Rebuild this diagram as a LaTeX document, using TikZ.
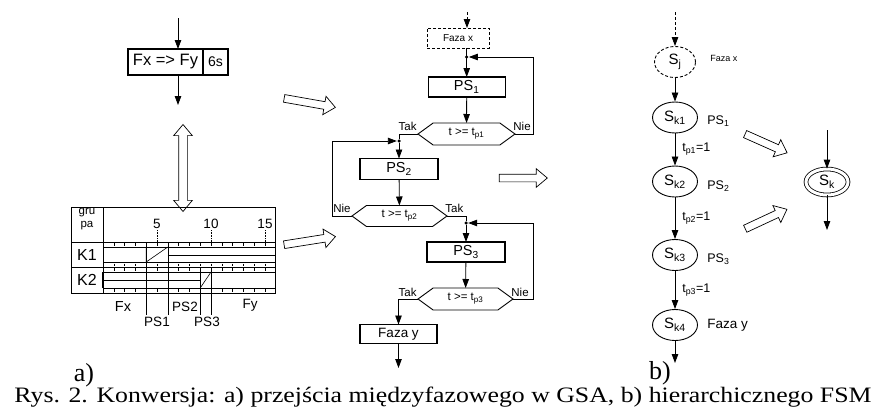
\documentclass[tikz,border=0pt]{standalone}
\usepackage{fontspec}
\setmainfont{Liberation Sans}
\newfontfamily\capfont{Liberation Serif}
\usepackage{graphicx}
\usepackage{tikz}
\usetikzlibrary{calc}
\usetikzlibrary{arrows.meta}
\usetikzlibrary{shapes.geometric}
\usetikzlibrary{shapes.symbols}
\usetikzlibrary{shapes.arrows}

\begin{document}
\begin{tikzpicture} [x=1pt, y=-1pt, line width=.8pt,
>={Triangle[length=9pt,width=6.5pt]},
box/.style={draw, line width=1.1pt, inner sep=0pt, outer sep=0pt, font=\fontsize{14.5}{14.5}\selectfont},
hexbox/.style={draw, signal, signal to=west and east, signal pointer angle=72, inner sep=0pt, outer sep=0pt, line width=.9pt, font=\fontsize{11.5}{11.5}\selectfont},
state/.style={draw, ellipse, minimum width=45pt, minimum height=31pt, inner sep=0pt, line width=.9pt, font=\fontsize{15}{15}\selectfont},
hollow/.style={draw, single arrow, minimum height=#1, inner xsep=0pt, inner ysep=3.5pt, single arrow head extend=5.5pt, single arrow tip angle=80, line width=.7pt},
lab/.style={font=\fontsize{11.5}{11.5}\selectfont, inner sep=1pt},
chart/.style={font=\fontsize{13.5}{13.5}\selectfont, inner sep=1pt},
dot/.style={circle, fill, inner sep=0pt, minimum size=3.5pt}]

\useasboundingbox (0,0) rectangle (893,407);

\coordinate (lin) at (178,18);
\coordinate (lout) at (178,105);
\node[box, minimum width=75, minimum height=26, font=\fontsize{16.5}{16.5}\selectfont] (fxfy) at (165.5,62) {Fx => Fy};
\node[box, minimum width=25, minimum height=26, anchor=west, font=\fontsize{14}{14}\selectfont] (czas) at (fxfy.east) {6s};
\draw[->] (lin) -- (lin |- fxfy.north);
\draw[->] (lin |- fxfy.south) -- (lout);

\node[draw, double arrow, rotate=90, minimum height=87, inner xsep=0pt, inner ysep=4pt, double arrow head extend=5pt, double arrow tip angle=80, line width=.7pt] (zamiana) at (183,168) {};

\draw (71,207) rectangle (275.8,293);
\draw[line width=.6pt] (103,207) -- (103,293);
\draw[line width=.6pt] (71,242) -- (275.8,242);
\draw[line width=.6pt] (71,267) -- (275.8,267);

\begin{scope}[shift={(103,0)}, x=10.8pt, line width=.6pt]
\foreach \y in {247,262,272,288}
\draw (0,\y) -- (16,\y);

\foreach \x in {1,...,15} {
\draw[line width=.5pt] (\x,243) -- (\x,246);
\draw[line width=.5pt] (\x,263.5) -- (\x,266);
\draw[line width=.5pt] (\x,268) -- (\x,271);
\draw[line width=.5pt] (\x,289) -- (\x,292);
}

\foreach \x in {5,10,15}
\draw[densely dotted] (\x,230) -- (\x,242) node[pos=0, anchor=south, chart] (n\x) {\x};

\draw (4,247) -- (4,262) -- (6,247);
\draw (6,255) -- (16,255);
\draw[line width=1.3pt] (0,272) -- (0,288);
\draw (0,280) -- (9,280);
\draw (9,288) -- (10,272);

\draw (4,242) -- (4,315);
\draw (6,242) -- (6,315);
\draw (9,267) -- (9,315);
\draw (10,267) -- (10,315);
\end{scope}

\node[font=\fontsize{11.5}{11.5}\selectfont] (gru) at (87,213) {gru};
\node[font=\fontsize{11.5}{11.5}\selectfont] (pa) at (87,226) {pa};
\node[font=\fontsize{16}{16}\selectfont] (k1) at (87,255) {K1};
\node[font=\fontsize{16}{16}\selectfont] (k2) at (87,280) {K2};
\node[chart, font=\fontsize{14.5}{14.5}\selectfont] (lfx) at (123,307) {Fx};
\node[chart] (lps1) at (157,322) {PS1};
\node[chart] (lps2) at (185,307) {PS2};
\node[chart] (lps3) at (207,322) {PS3};
\node[chart] (lfy) at (250,305) {Fy};

\node[hollow=52, rotate=-10] (doA) at (307.5,102.5) {};
\node[hollow=52, rotate=9] (doB) at (307.5,241) {};
\node[hollow=48] (doC) at (521,178) {};
\node[hollow=46, rotate=-24] (doD) at (764,142.5) {};
\node[hollow=46, rotate=25] (doE) at (764,220) {};

\coordinate (fin) at (467,12);
\node[box, densely dashed, line width=.6pt, minimum width=62, minimum height=20, font=\fontsize{10}{10}\selectfont] (fazax) at (458,38) {Faza x};
\draw[->, densely dashed] (fin) -- (fin |- fazax.north);
\node[box, minimum width=77, minimum height=20] (ps1) at (466.7,87) {PS\textsubscript{1}};
\node[dot] (j1) at (466.7,57) {};
\draw[->] (ps1 |- fazax.south) -- (ps1.north);
\node[hexbox, minimum width=97, minimum height=22] (h1) at (466.5,134) {t >= t\textsubscript{p1}};
\draw[->] (ps1) -- (h1);
\draw[->] (h1.east) -- ++(18,0) |- (j1);
\node[lab, above left, yshift=2pt] (tak1) at (h1.west) {Tak};
\node[lab, above right, xshift=-3pt, yshift=2pt] (nie1) at (h1.east) {Nie};

\node[dot] (j2) at (399,141) {};
\draw (h1.west) -| (j2);
\node[box, minimum width=78, minimum height=21] (ps2) at (399,169) {PS\textsubscript{2}};
\draw[->] (j2) -- (ps2);
\node[hexbox, minimum width=95, minimum height=21] (h2) at (399.5,216) {t >= t\textsubscript{p2}};
\draw[->] (ps2) -- (h2);
\draw[->] (h2.west) -- ++(-20,0) |- (j2);
\node[lab, above left, yshift=2pt] (nie2) at (h2.west) {Nie};
\node[lab, above right, xshift=-3pt, yshift=2pt] (tak2) at (h2.east) {Tak};

\node[dot] (j3) at (466,223) {};
\draw (h2.east) -| (j3);
\node[box, minimum width=78, minimum height=20] (ps3) at (466,252) {PS\textsubscript{3}};
\draw[->] (j3) -- (ps3);
\node[hexbox, minimum width=95, minimum height=22] (h3) at (465.5,299) {t >= t\textsubscript{p3}};
\draw[->] (ps3) -- (h3);
\draw[->] (h3.east) -- ++(20,0) |- (j3);
\node[lab, above left, yshift=1pt] (tak3) at (h3.west) {Tak};
\node[lab, above right, xshift=-3pt, yshift=1pt] (nie3) at (h3.east) {Nie};

\node[box, minimum width=77, minimum height=19, font=\fontsize{13.5}{13.5}\selectfont] (fazay) at (398.5,334) {Faza y};
\draw[->] (h3.west) -| (fazay.north);
\coordinate (fout) at (398.5,368);
\draw[->] (fazay) -- (fout);

\coordinate (sin) at (675,12);
\node[state, densely dashed, minimum width=41] (sj) at (675,62) {S\textsubscript{j}};
\draw[->, densely dashed] (sin) -- (sj);
\node[state] (sk1) at (675,117.5) {S\textsubscript{k1}};
\node[state] (sk2) at (675,181.5) {S\textsubscript{k2}};
\node[state] (sk3) at (675,255) {S\textsubscript{k3}};
\node[state] (sk4) at (675,325) {S\textsubscript{k4}};
\coordinate (sout) at (675,363);
\draw[->] (sj) -- (sk1);
\draw[->] (sk1) -- node[lab, right, xshift=6pt, font=\fontsize{12.5}{12.5}\selectfont] (tp1) {t\textsubscript{p1}=1} (sk2);
\draw[->] (sk2) -- node[lab, right, xshift=6pt, font=\fontsize{12.5}{12.5}\selectfont] (tp2) {t\textsubscript{p2}=1} (sk3);
\draw[->] (sk3) -- node[lab, right, xshift=6pt, font=\fontsize{12.5}{12.5}\selectfont] (tp3) {t\textsubscript{p3}=1} (sk4);
\draw[->] (sk4) -- (sout);

\node[anchor=west, inner sep=0pt, font=\fontsize{9}{9}\selectfont] (opx) at (710,58) {Faza x};
\node[anchor=west, inner sep=0pt, font=\fontsize{12.5}{12.5}\selectfont] (op1) at (707,121) {PS\textsubscript{1}};
\node[anchor=west, inner sep=0pt, font=\fontsize{12.5}{12.5}\selectfont] (op2) at (707,186) {PS\textsubscript{2}};
\node[anchor=west, inner sep=0pt, font=\fontsize{12.5}{12.5}\selectfont] (op3) at (707,259) {PS\textsubscript{3}};
\node[anchor=west, inner sep=0pt, font=\fontsize{13.5}{13.5}\selectfont] (opy) at (707,325) {Faza y};

\coordinate (kin) at (827,130);
\coordinate (kout) at (827,230);
\node[state, double, double distance=3pt, line width=.8pt, minimum width=42, minimum height=26] (sk) at (827,182) {S\textsubscript{k}};
\draw[->] (kin) -- (sk);
\draw[->] (sk) -- (kout);

\node[font=\capfont\fontsize{26}{26}\selectfont] (pa) at (84,375) {a)};
\node[font=\capfont\fontsize{26}{26}\selectfont] (pb) at (660,373) {b)};
\node[anchor=base, inner sep=0pt, font=\capfont] (rys) at (443,402) {\resizebox{857pt}{15.5pt}{Rys. 2. Konwersja: a) przejścia międzyfazowego w GSA, b) hierarchicznego FSM}};

\end{tikzpicture}
\end{document}
